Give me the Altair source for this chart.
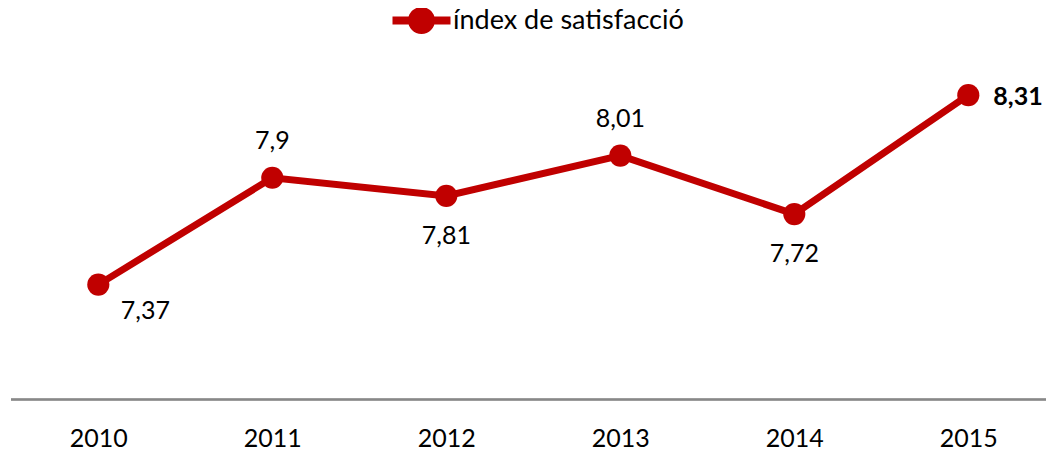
import altair as alt
import pandas as pd

years = ["2010", "2011", "2012", "2013", "2014", "2015"]
values = [7.37, 7.90, 7.81, 8.01, 7.72, 8.31]
label_pos = ["below-right", "above", "below", "above", "below", "right"]
series_name = "índex de satisfacció"

RED = "#C00000"
FONT = "Lato"
FS = 25

df = pd.DataFrame({
    "year": years,
    "value": values,
    "pos": label_pos,
    "serie": [series_name] * len(years),
})
df["label"] = [("%g" % v).replace(".", ",") for v in values]

legend_path = (
    "M -2.9 -0.4 L 2.9 -0.4 L 2.9 0.4 L -2.9 0.4 Z "
    "M 1.35 0 A 1.35 1.35 0 1 1 -1.35 0 A 1.35 1.35 0 1 1 1.35 0 Z"
)

PW = 1035
PH = 322.5

x = alt.X(
    "year:N",
    sort=years,
    scale=alt.Scale(type="point", padding=0, range=[87.3, 957.3]),
    axis=alt.Axis(
        title=None, ticks=False, domain=False,
        labelFont=FONT, labelFontSize=FS, labelColor="#000000",
        labelPadding=27, labelAngle=0,
    ),
)
y = alt.Y("value:Q", scale=alt.Scale(domain=[6.8, 8.4], nice=False, zero=False), axis=None)

color = alt.Color(
    "serie:N",
    scale=alt.Scale(domain=[series_name], range=[RED]),
    legend=alt.Legend(
        title=None, orient="none", legendX=397, legendY=-70,
        symbolType=legend_path, symbolSize=400, symbolFillColor=RED,
        symbolStrokeWidth=0, symbolOpacity=1,
        labelFont=FONT, labelFontSize=27, labelColor="#000000",
        labelOffset=18, padding=0, labelLimit=0,
    ),
)

base = alt.Chart(df).encode(x=x, y=y)

axis_line = alt.Chart(df).mark_rule(color="#888888", strokeWidth=1.5).encode(
    x=alt.value(0), x2=alt.value(PW), y=alt.value(PH)
)
line = base.mark_line(color=RED, strokeWidth=7)
points = base.mark_circle(size=490, opacity=1).encode(color=color)

txt_common = dict(font=FONT, fontSize=FS, color="#000000", baseline="middle")
lbl_br = base.mark_text(align="center", dx=47, dy=26, **txt_common).encode(text="label:N").transform_filter(alt.datum.pos == "below-right")
lbl_above = base.mark_text(align="center", dx=0, dy=-37, **txt_common).encode(text="label:N").transform_filter(alt.datum.pos == "above")
lbl_below = base.mark_text(align="center", dx=0, dy=40, **txt_common).encode(text="label:N").transform_filter(alt.datum.pos == "below")
lbl_right = base.mark_text(align="left", dx=25, dy=2, fontWeight="bold", **txt_common).encode(text="label:N").transform_filter(alt.datum.pos == "right")

chart = alt.layer(axis_line, line, points, lbl_br, lbl_above, lbl_below, lbl_right).properties(
    width=PW,
    height=PH,
    background="white",
    autosize=alt.AutoSizeParams(type="none"),
    padding={"left": 3, "top": 69, "right": 0, "bottom": 50.5},
).configure_view(stroke=None)

chart.save("out.html", embed_options={"renderer": "svg", "actions": False})
